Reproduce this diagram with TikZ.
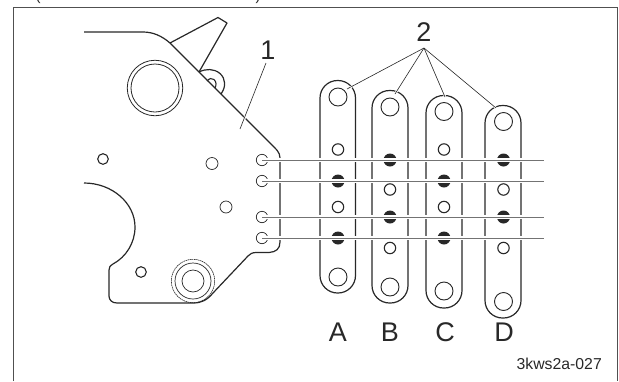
\documentclass[tikz,border=0pt]{standalone}
\usepackage{fontspec}
\setmainfont{Liberation Sans}
\definecolor{ink}{RGB}{40,40,40}
\definecolor{rulegray}{RGB}{115,115,115}
\tikzset{
  outline/.style={draw=ink,line width=1.2pt,line join=round},
  thin hole/.style={draw=ink,line width=0.7pt,fill=white},
  thick hole/.style={draw=ink,line width=1.1pt,fill=white},
  big hole/.style={draw=ink,line width=0.9pt,fill=white},
  dark hole/.style={draw=none,fill=ink},
  halo/.style={draw=white,line width=3.2pt},
  rod/.style={draw=rulegray,line width=0.9pt},
  leader/.style={draw=ink,line width=0.6pt},
  leader halo/.style={draw=white,line width=2.2pt},
  lab/.style={font=\fontsize{27}{27}\selectfont,text=ink,inner sep=0pt,anchor=center},
}
\newcommand{\slotbox}[5]{% name, left, right, top, bottom
  \draw[outline,rounded corners=17.5pt] (#2,#4) rectangle (#3,#5);
}
\begin{document}
\begin{tikzpicture}[x=1pt,y=-1pt]
\useasboundingbox (0,0) rectangle (619,381);
\clip (0,0) rectangle (619,381);
% frame
\draw[draw=rulegray!70!black,line width=1pt] (13,381) -- (13,7) -- (617,7) -- (617,381);
% clipped brackets of the caption above the frame
\node[font=\fontsize{15}{15}\selectfont,text=ink,inner sep=0pt] (pl) at (38,-3.5) {(};
\node[font=\fontsize{15}{15}\selectfont,text=ink,inner sep=0pt] (pr) at (258,-3.5) {)};
% plate
\draw[outline] (84,32) -- (143,32) .. controls (153,32) and (162,36) .. (170,43)
  -- (270,143) .. controls (276,149) and (280,152) .. (280,158)
  -- (280,242) .. controls (280,249) and (276,252) .. (269,252.5)
  -- (256,252.5) .. controls (252,252.5) and (250,254) .. (248,256)
  -- (213,293) .. controls (207,300) and (202,303) .. (193,303)
  -- (117,303) .. controls (112,303) and (109,300) .. (109,296)
  -- (109,270) .. controls (109,267) and (110,266) .. (113,264)
  .. controls (126,257) and (135,243) .. (135,227)
  .. controls (135,203) and (112,183) .. (84,183);
% bracket
\draw[outline] (170,43) -- (218,17.5) -- (227,23) -- (199,72);
\draw[outline] (199,72) .. controls (206,68.5) and (214,68.5) .. (220,73.5)
  .. controls (226,79) and (226,87) .. (221,94);
\draw[draw=ink,line width=1.1pt] (207,81) .. controls (209,78.5) and (212,77.5) .. (214,79.5)
  .. controls (216.5,82) and (216.5,85) .. (215,88);
% large hole and holes
\node[circle,draw=ink,line width=0.8pt,minimum size=55.5pt,inner sep=0pt] (h0) at (155,88) {};
\node[circle,draw=ink,line width=0.8pt,minimum size=48pt,inner sep=0pt] (h0i) at (155,88) {};
\draw[thick hole] (103,159) circle[radius=5.3pt];
\draw[thin hole] (212,163.5) circle[radius=6pt];
\draw[thin hole] (226,207) circle[radius=6pt];
\draw[thick hole] (141,272) circle[radius=5.3pt];
\draw[thin hole] (262,160) circle[radius=5.7pt];
\draw[thin hole] (262,181) circle[radius=5.7pt];
\draw[thin hole] (262,217) circle[radius=5.7pt];
\draw[thin hole] (262,238) circle[radius=5.7pt];
% bushing
\draw[draw=ink,line width=0.6pt,densely dashed,dash pattern=on 1.5pt off 0.6pt] (193,281) circle[radius=21.7pt];
\draw[draw=ink,line width=0.7pt] (193,281) circle[radius=18pt];
\draw[draw=ink,line width=0.7pt] (193,281) circle[radius=11pt];
% slots
\slotbox{A}{320}{355.5}{80.5}{293}
\slotbox{B}{372}{408}{90.5}{303}
\slotbox{C}{426}{462}{95.5}{308}
\slotbox{D}{485}{521}{105.5}{318}
\foreach \x/\t/\b in {338/97/277,390/107/287,444/111.5/291,503.5/121.5/301.5}{
  \draw[big hole] (\x,\t) circle[radius=9pt];
  \draw[big hole] (\x,\b) circle[radius=9pt];
}
\foreach \x/\y in {338/149.5,338/207,390/189.5,390/248,444/149.5,444/207,503.5/189.5,503.5/248}{
  \draw[thick hole] (\x,\y) circle[radius=5.7pt];
}
\foreach \x/\y in {338/181,338/238,390/160,390/217,444/181,444/238,503.5/160,503.5/217}{
  \fill[dark hole] (\x,\y) circle[radius=6.5pt];
}
% rods
\foreach \y in {160,181,217,238}{
  \draw[halo] (264,\y) -- (544,\y);
  \draw[rod] (262,\y) -- (544,\y);
}
% labels
\node[lab] (one) at (268,50) {1};
\node[lab] (two) at (424,32) {2};
\coordinate (t1) at (266,63);
\coordinate (e1) at (240,129);
\draw[leader halo] (248,110) -- (e1);
\draw[leader] (t1) -- (e1);
\coordinate (t2) at (424,48);
\foreach \ex/\ey/\hx/\hy in {347/89/352/86.5,395/94/398/89.5,445/97/443.5/92,496/108/492/104.5}{
  \draw[leader halo] (\hx,\hy) -- (\ex,\ey);
  \draw[leader] (t2) -- (\ex,\ey);
}
\node[lab] (A) at (338,332) {A};
\node[lab] (B) at (390,332) {B};
\node[lab] (C) at (445,332) {C};
\node[lab] (D) at (504,332) {D};
\node[font=\fontsize{15.8}{16}\selectfont,text=ink,inner sep=0pt,anchor=east] (cap) at (602,364) {3kws2a-027};
\end{tikzpicture}
\end{document}
